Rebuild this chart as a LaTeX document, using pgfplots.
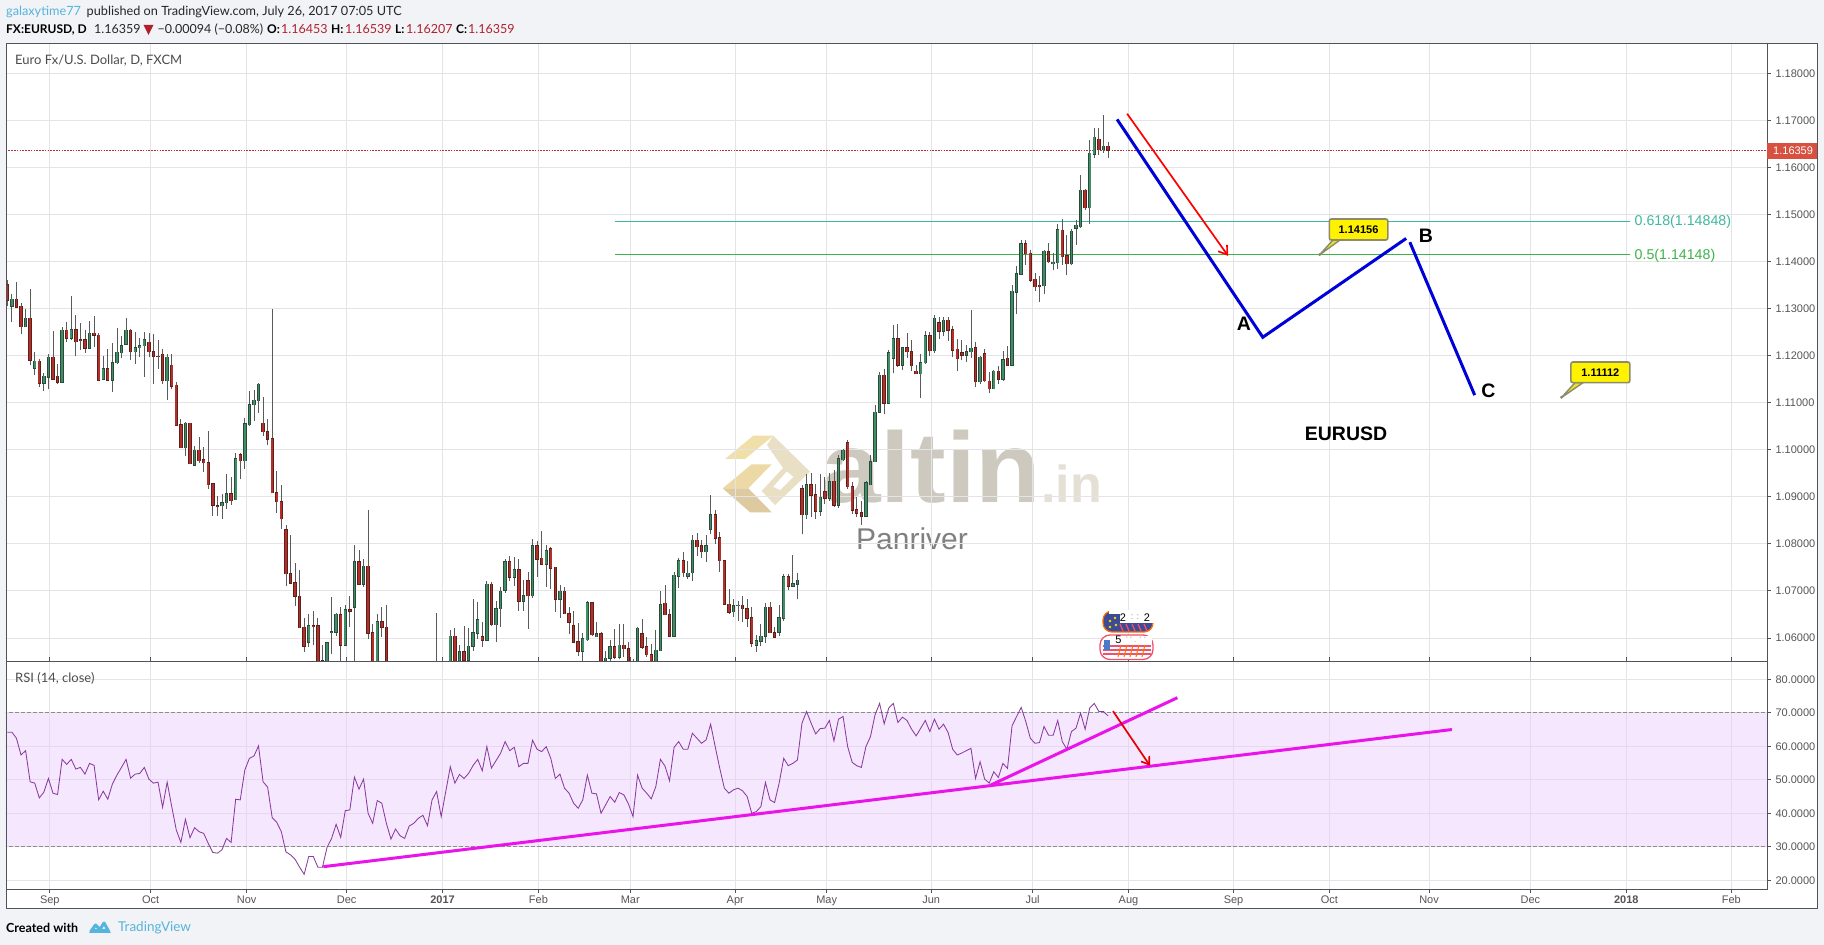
\documentclass[border=0pt]{standalone}
\usepackage{fontspec}
\setmainfont{Liberation Sans}
\newfontfamily\lato{Lato}
\usepackage{pgfplots}
\usepackage{pgfplotstable}
\pgfplotsset{compat=1.18}
\usetikzlibrary{arrows.meta}
\definecolor{pagebg}{HTML}{F1F3F6}
\definecolor{frame}{HTML}{50545A}
\definecolor{gridc}{HTML}{E4E4E6}
\definecolor{tickc}{HTML}{555555}
\definecolor{wick}{HTML}{5A5A5A}
\definecolor{upbody}{HTML}{3E8E66}
\definecolor{upedge}{HTML}{2B4A3B}
\definecolor{dnbody}{HTML}{B3302A}
\definecolor{dnedge}{HTML}{5C1F1A}
\definecolor{rsiline}{HTML}{8A3C9E}
\definecolor{rsiband}{HTML}{EBCBFB}
\definecolor{lastpx}{HTML}{B5323C}
\definecolor{lastbox}{HTML}{D8503F}
\definecolor{fibteal}{HTML}{3DB8A0}
\definecolor{fibgreen}{HTML}{3FB24A}
\definecolor{mag}{HTML}{EA14EA}
\definecolor{hdrred}{HTML}{B0202C}
\definecolor{tvblue}{HTML}{55B4DC}
\definecolor{callout}{HTML}{8C8C6C}
\definecolor{wmdark}{HTML}{CDC9BE}
\definecolor{wmlight}{HTML}{E4E0D5}
\definecolor{logoa}{HTML}{F0DFA8}
\definecolor{logob}{HTML}{EDD9A6}
\definecolor{logoc}{HTML}{DDCAA0}
\definecolor{logod}{HTML}{E9DFC4}
\definecolor{navy}{HTML}{3D4A94}
\definecolor{pinkr}{HTML}{F0506E}
\definecolor{flagb}{HTML}{4A7AC8}
\pgfplotstableread{
i o h l c
0 1.1351 1.1360 1.1305 1.1318
1 1.1305 1.1330 1.1272 1.1320
2 1.1320 1.1356 1.1303 1.1303
3 1.1305 1.1311 1.1246 1.1261
4 1.1261 1.1299 1.1261 1.1279
5 1.1279 1.1341 1.1179 1.1190
6 1.1173 1.1207 1.1158 1.1188
7 1.1188 1.1192 1.1133 1.1141
8 1.1141 1.1164 1.1125 1.1156
9 1.1154 1.1204 1.1128 1.1196
10 1.1196 1.1252 1.1150 1.1150
11 1.1156 1.1182 1.1139 1.1143
12 1.1143 1.1261 1.1142 1.1254
13 1.1254 1.1272 1.1229 1.1237
14 1.1237 1.1326 1.1234 1.1255
15 1.1255 1.1286 1.1199 1.1229
16 1.1234 1.1270 1.1211 1.1233
17 1.1234 1.1254 1.1206 1.1216
18 1.1216 1.1274 1.1214 1.1247
19 1.1247 1.1284 1.1218 1.1243
20 1.1243 1.1247 1.1147 1.1148
21 1.1150 1.1199 1.1149 1.1172
22 1.1172 1.1213 1.1147 1.1148
23 1.1148 1.1227 1.1123 1.1185
24 1.1185 1.1258 1.1183 1.1207
25 1.1206 1.1241 1.1194 1.1221
26 1.1224 1.1279 1.1222 1.1254
27 1.1254 1.1257 1.1190 1.1208
28 1.1208 1.1250 1.1183 1.1217
29 1.1217 1.1238 1.1197 1.1221
30 1.1221 1.1250 1.1155 1.1234
31 1.1228 1.1247 1.1197 1.1208
32 1.1208 1.1245 1.1140 1.1199
33 1.1199 1.1233 1.1172 1.1198
34 1.1203 1.1213 1.1140 1.1146
35 1.1146 1.1204 1.1105 1.1196
36 1.1179 1.1203 1.1130 1.1135
37 1.1137 1.1143 1.1050 1.1052
38 1.1053 1.1066 1.1004 1.1004
39 1.1004 1.1059 1.0986 1.1056
40 1.1056 1.1057 1.0969 1.0970
41 1.0967 1.1007 1.0965 1.0999
42 1.0999 1.1027 1.0972 1.0977
43 1.0979 1.1006 1.0953 1.0972
44 1.0972 1.1039 1.0916 1.0926
45 1.0928 1.0929 1.0860 1.0882
46 1.0881 1.0901 1.0860 1.0880
47 1.0881 1.0905 1.0852 1.0887
48 1.0887 1.0948 1.0875 1.0906
49 1.0906 1.0943 1.0882 1.0892
50 1.0894 1.0992 1.0893 1.0981
51 1.0989 1.0992 1.0937 1.0977
52 1.0977 1.1068 1.0960 1.1055
53 1.1053 1.1124 1.1050 1.1096
54 1.1096 1.1126 1.1061 1.1105
55 1.1104 1.1141 1.1079 1.1139
56 1.1056 1.1111 1.1029 1.1038
57 1.1038 1.1066 1.1009 1.1022
58 1.1023 1.1299 1.0908 1.0908
59 1.0909 1.0954 1.0865 1.0889
60 1.0889 1.0924 1.0831 1.0853
61 1.0830 1.0841 1.0710 1.0736
62 1.0736 1.0818 1.0714 1.0716
63 1.0717 1.0760 1.0668 1.0689
64 1.0689 1.0745 1.0621 1.0622
65 1.0623 1.0643 1.0570 1.0582
66 1.0591 1.0650 1.0580 1.0626
67 1.0626 1.0658 1.0584 1.0625
68 1.0626 1.0643 1.0530 1.0540
69 1.0552 1.0586 1.0530 1.0550
70 1.0545 1.0591 1.0530 1.0590
71 1.0611 1.0687 1.0565 1.0613
72 1.0612 1.0653 1.0605 1.0650
73 1.0649 1.0665 1.0552 1.0584
74 1.0584 1.0669 1.0583 1.0660
75 1.0660 1.0690 1.0624 1.0657
76 1.0665 1.0797 1.0540 1.0762
77 1.0762 1.0786 1.0713 1.0714
78 1.0714 1.0768 1.0709 1.0752
79 1.0752 1.0872 1.0597 1.0610
80 1.0611 1.0630 1.0545 1.0552
81 1.0540 1.0651 1.0530 1.0634
82 1.0634 1.0666 1.0603 1.0623
83 1.0623 1.0671 1.0520 1.0530
94 1.0450 1.0654 1.0430 1.0480
97 1.0540 1.0616 1.0520 1.0604
98 1.0604 1.0622 1.0520 1.0530
99 1.0545 1.0584 1.0530 1.0571
100 1.0571 1.0626 1.0551 1.0553
101 1.0553 1.0622 1.0549 1.0582
102 1.0582 1.0683 1.0572 1.0611
103 1.0610 1.0676 1.0598 1.0639
104 1.0603 1.0634 1.0580 1.0595
105 1.0595 1.0720 1.0594 1.0714
106 1.0714 1.0719 1.0626 1.0628
107 1.0628 1.0678 1.0591 1.0662
108 1.0662 1.0708 1.0624 1.0699
109 1.0701 1.0768 1.0695 1.0762
110 1.0762 1.0774 1.0721 1.0729
111 1.0729 1.0772 1.0711 1.0745
112 1.0745 1.0767 1.0658 1.0678
113 1.0678 1.0723 1.0658 1.0690
114 1.0722 1.0741 1.0619 1.0690
115 1.0690 1.0811 1.0684 1.0796
116 1.0796 1.0807 1.0729 1.0767
117 1.0769 1.0828 1.0756 1.0757
118 1.0757 1.0798 1.0709 1.0785
119 1.0790 1.0793 1.0705 1.0748
120 1.0750 1.0750 1.0656 1.0682
121 1.0682 1.0713 1.0642 1.0699
122 1.0699 1.0709 1.0651 1.0651
123 1.0651 1.0665 1.0609 1.0633
124 1.0626 1.0658 1.0590 1.0591
125 1.0592 1.0632 1.0562 1.0572
126 1.0572 1.0610 1.0549 1.0598
127 1.0596 1.0679 1.0594 1.0675
128 1.0675 1.0677 1.0605 1.0607
129 1.0603 1.0633 1.0601 1.0609
130 1.0609 1.0612 1.0540 1.0548
131 1.0545 1.0573 1.0530 1.0557
132 1.0557 1.0596 1.0552 1.0581
133 1.0581 1.0618 1.0555 1.0559
134 1.0559 1.0630 1.0555 1.0585
135 1.0585 1.0630 1.0559 1.0577
136 1.0577 1.0591 1.0530 1.0545
137 1.0551 1.0555 1.0530 1.0550
138 1.0545 1.0624 1.0530 1.0621
139 1.0609 1.0640 1.0577 1.0580
140 1.0581 1.0603 1.0559 1.0564
141 1.0564 1.0587 1.0540 1.0545
142 1.0545 1.0616 1.0540 1.0574
143 1.0573 1.0699 1.0572 1.0671
144 1.0674 1.0713 1.0649 1.0649
145 1.0649 1.0662 1.0601 1.0604
146 1.0604 1.0741 1.0603 1.0733
147 1.0731 1.0770 1.0706 1.0764
148 1.0764 1.0782 1.0729 1.0738
149 1.0731 1.0764 1.0725 1.0738
150 1.0738 1.0819 1.0721 1.0808
151 1.0808 1.0823 1.0775 1.0794
152 1.0796 1.0809 1.0770 1.0783
153 1.0783 1.0818 1.0761 1.0796
154 1.0831 1.0904 1.0820 1.0862
155 1.0862 1.0872 1.0800 1.0812
156 1.0813 1.0825 1.0740 1.0764
157 1.0764 1.0766 1.0671 1.0672
158 1.0672 1.0703 1.0651 1.0655
159 1.0656 1.0682 1.0644 1.0668
160 1.0669 1.0679 1.0635 1.0670
161 1.0670 1.0689 1.0633 1.0662
162 1.0662 1.0683 1.0623 1.0642
163 1.0643 1.0665 1.0580 1.0589
164 1.0584 1.0606 1.0570 1.0594
165 1.0593 1.0630 1.0582 1.0604
166 1.0604 1.0674 1.0589 1.0665
167 1.0665 1.0677 1.0610 1.0611
168 1.0611 1.0623 1.0600 1.0601
169 1.0612 1.0671 1.0604 1.0643
170 1.0642 1.0736 1.0637 1.0730
171 1.0730 1.0736 1.0701 1.0710
172 1.0710 1.0777 1.0710 1.0715
173 1.0714 1.0738 1.0682 1.0723
174 1.0917 1.0924 1.0820 1.0862
175 1.0862 1.0949 1.0853 1.0926
176 1.0926 1.0951 1.0857 1.0903
177 1.0904 1.0928 1.0853 1.0869
178 1.0869 1.0948 1.0859 1.0899
179 1.0911 1.0943 1.0884 1.0897
180 1.0897 1.0950 1.0892 1.0932
181 1.0933 1.0956 1.0878 1.0882
182 1.0882 1.0988 1.0877 1.0981
183 1.0979 1.1002 1.0976 1.0999
184 1.1015 1.1021 1.0917 1.0921
185 1.0921 1.0931 1.0864 1.0871
186 1.0872 1.0899 1.0857 1.0865
187 1.0866 1.0892 1.0841 1.0859
188 1.0859 1.0933 1.0857 1.0930
189 1.0926 1.0989 1.0924 1.0974
190 1.0974 1.1096 1.0974 1.1080
191 1.1080 1.1165 1.1079 1.1158
192 1.1158 1.1172 1.1075 1.1099
193 1.1099 1.1211 1.1098 1.1206
194 1.1194 1.1264 1.1162 1.1236
195 1.1236 1.1268 1.1176 1.1179
196 1.1179 1.1218 1.1169 1.1217
197 1.1217 1.1249 1.1194 1.1208
198 1.1208 1.1234 1.1167 1.1178
199 1.1167 1.1180 1.1160 1.1161
200 1.1161 1.1204 1.1110 1.1185
201 1.1185 1.1252 1.1183 1.1242
202 1.1242 1.1250 1.1200 1.1210
203 1.1210 1.1286 1.1205 1.1279
204 1.1270 1.1282 1.1235 1.1252
205 1.1252 1.1282 1.1241 1.1275
206 1.1275 1.1282 1.1231 1.1254
207 1.1255 1.1262 1.1197 1.1211
208 1.1213 1.1236 1.1167 1.1193
209 1.1206 1.1233 1.1190 1.1201
210 1.1201 1.1223 1.1186 1.1208
211 1.1208 1.1296 1.1195 1.1216
212 1.1217 1.1228 1.1133 1.1144
213 1.1144 1.1199 1.1140 1.1196
214 1.1204 1.1213 1.1144 1.1146
215 1.1146 1.1165 1.1120 1.1130
216 1.1130 1.1169 1.1129 1.1167
217 1.1167 1.1178 1.1140 1.1150
218 1.1150 1.1210 1.1146 1.1191
219 1.1194 1.1220 1.1179 1.1179
220 1.1179 1.1350 1.1179 1.1337
221 1.1335 1.1390 1.1289 1.1374
222 1.1373 1.1445 1.1373 1.1438
223 1.1438 1.1445 1.1392 1.1416
224 1.1417 1.1425 1.1357 1.1360
225 1.1362 1.1376 1.1337 1.1346
226 1.1349 1.1369 1.1314 1.1346
227 1.1348 1.1424 1.1330 1.1422
228 1.1421 1.1440 1.1397 1.1399
229 1.1395 1.1417 1.1381 1.1398
230 1.1397 1.1479 1.1385 1.1467
231 1.1466 1.1490 1.1392 1.1410
232 1.1412 1.1456 1.1371 1.1395
233 1.1395 1.1470 1.1392 1.1464
234 1.1471 1.1488 1.1435 1.1477
235 1.1474 1.1584 1.1472 1.1552
236 1.1552 1.1555 1.1510 1.1514
237 1.1514 1.1658 1.1479 1.1630
238 1.1628 1.1683 1.1620 1.1664
239 1.1660 1.1683 1.1626 1.1637
240 1.1637 1.1711 1.1631 1.1645
241 1.16453 1.16539 1.16207 1.16359
}\candles
\pgfplotstableread{
i r
0 64.2
1 64.2
2 62.4
3 57.4
4 58.7
5 49.4
6 49.0
7 44.6
8 46.3
9 50.4
10 46.0
11 45.6
12 56.1
13 54.6
14 56.1
15 53.2
16 53.7
17 51.7
18 54.9
19 54.3
20 44.0
21 46.6
22 44.2
23 48.7
24 51.4
25 53.7
26 56.1
27 50.5
28 51.7
29 51.9
30 53.7
31 50.2
32 49.0
33 49.3
34 41.8
35 49.3
36 42.0
37 35.0
38 31.3
39 38.2
40 32.7
41 35.7
42 34.5
43 34.0
44 31.0
45 28.3
46 28.1
47 29.1
48 32.5
49 31.3
50 44.2
51 44.0
52 52.9
53 56.4
54 57.1
55 60.1
56 49.4
57 47.8
58 38.7
59 37.3
60 34.5
61 28.5
62 27.6
63 26.3
64 23.9
65 21.8
66 27.1
67 27.1
68 23.9
69 23.9
70 29.8
71 32.5
72 36.7
73 32.8
74 40.8
75 41.0
76 50.8
77 47.2
78 50.2
79 40.0
80 37.0
81 43.8
82 43.0
83 37.0
84 32.3
85 35.3
86 33.3
87 32.5
88 36.2
89 37.0
90 38.5
91 39.4
92 36.3
93 44.0
94 46.5
95 39.0
96 46.5
97 53.9
98 49.0
99 51.6
100 50.4
101 51.9
102 54.3
103 56.1
104 52.7
105 59.9
106 53.5
107 55.7
108 57.9
109 61.4
110 58.7
111 59.7
112 53.9
113 54.9
114 54.9
115 61.8
116 59.1
117 58.4
118 59.9
119 56.4
120 50.4
121 51.7
122 47.5
123 46.0
124 43.0
125 41.5
126 44.0
127 51.4
128 46.0
129 45.8
130 40.0
131 42.5
132 45.0
133 43.3
134 46.2
135 45.5
136 42.8
137 39.0
138 51.4
139 47.5
140 46.0
141 44.3
142 48.0
143 56.1
144 54.1
145 49.7
146 59.7
147 61.4
148 59.1
149 59.1
150 63.9
151 62.4
152 60.9
153 61.9
154 66.6
155 59.9
156 53.4
157 47.5
158 46.0
159 47.0
160 47.5
161 46.7
162 45.0
163 40.0
164 40.5
165 42.0
166 49.2
167 44.0
168 43.2
169 49.0
170 56.4
171 54.2
172 54.9
173 55.9
174 66.9
175 70.4
176 66.9
177 63.7
178 65.3
179 65.4
180 67.7
181 61.6
182 68.1
183 68.9
184 59.9
185 55.2
186 54.2
187 53.7
188 59.9
189 62.9
190 69.4
191 72.8
192 66.7
193 71.4
194 72.8
195 67.1
196 68.7
197 67.7
198 65.1
199 63.1
200 65.4
201 67.7
202 64.4
203 68.1
204 65.1
205 66.6
206 64.1
207 59.1
208 57.4
209 58.0
210 58.7
211 59.4
212 50.4
213 55.4
214 50.2
215 49.0
216 52.4
217 50.7
218 54.9
219 53.4
220 66.1
221 68.9
222 71.6
223 67.4
224 62.4
225 60.9
226 61.1
227 65.9
228 63.3
229 63.3
230 67.7
231 61.4
232 59.1
233 64.4
234 65.4
235 69.9
236 65.1
237 71.4
238 72.8
239 70.4
240 70.4
241 69.1
}\rsi
\pgfplotsset{
  cbar/.style={draw=none, mark=none, forget plot,
    error bars/.cd, y dir=plus, y explicit, error mark=none, error bar style={#1}},
  panel/.style={
    scale only axis, width=1761pt, xmin=-0.29, xmax=385.3,
    xtick={9.3,31.4,52.4,74.3,95.3,116.3,136.4,159.4,179.4,202.3,224.5,245.5,268.5,289.5,311.3,333.5,354.5,377.5},
    ymajorgrids, xmajorgrids,
    grid style={gridc, line width=0.8pt},
    axis line style={frame, line width=0.9pt},
    tick style={frame, line width=0.8pt},
    major tick length=4pt, tick align=outside,
    ytick pos=right,
    tick label style={font=\fontsize{11}{13}\selectfont, text=tickc},
    /pgf/number format/assume math mode=true,
    yticklabel style={xshift=1pt},
  },
}
\newcommand\fnt[1]{\fontsize{#1}{#1}\selectfont}
\begin{document}
\begin{tikzpicture}[x=1pt,y=1pt]
\useasboundingbox (0pt,0pt) rectangle (1824pt,945pt);
\fill[pagebg] (0pt,0pt) rectangle (1824pt,945pt);
\begin{scope}[x=1pt,y=-1pt,shift={(0pt,945pt)}]
\fill[white] (6,43.5) rectangle (1817,908.3);
% watermark logo
\fill[logoa] (725,459) -- (753.3,435.7) -- (773.3,435.7) -- (745,459) -- cycle;
\fill[logob] (722.7,488.3) -- (751.7,464.3) -- (771.7,464.3) -- (748.3,488.3) -- cycle;
\fill[logoc] (722.7,488.3) -- (748.3,488.3) -- (771.7,512.3) -- (750,512.3) -- cycle;
\fill[logod] (773.3,435.7) -- (810,471.7) -- (775,505) -- (761.7,491) -- (783,468) -- (767,445) -- cycle;
\fill[white] (773.3,486.7) -- (786.7,471.7) -- (793.3,476.7) -- (780,490) -- cycle;
\node[anchor=base west, inner sep=0pt, text=wmdark, font=\bfseries\fnt{100}, xscale=1.07] at (821,503) {altin};
\node[anchor=base west, inner sep=0pt, text=wmlight, font=\bfseries\fnt{52}] at (1041,503) {.in};
\node[anchor=base west, inner sep=0pt, text=black!50, font=\fnt{30}] at (856,550) {Panriver};
\end{scope}

% ---------- price panel
\begin{axis}[panel, at={(6pt,284pt)}, anchor=south west, height=617.5pt,
  ymin=1.0551, ymax=1.18633,
  ytick={1.06,1.07,1.08,1.09,1.10,1.11,1.12,1.13,1.14,1.15,1.16,1.17,1.18},
  yticklabel style={/pgf/number format/.cd, fixed, fixed zerofill, precision=5},
  xticklabels={}, x tick style={draw=none},
  clip=true]
\addplot[lastpx, densely dashed, line width=0.7pt, dash pattern=on 1.6pt off 1.2pt, forget plot] coordinates {(-1,1.16359) (386,1.16359)};
\addplot[fibteal, line width=0.9pt, forget plot] coordinates {(133.1,1.14848) (355.3,1.14848)};
\addplot[fibgreen, line width=0.9pt, forget plot] coordinates {(133.1,1.14148) (355.3,1.14148)};
\addplot[cbar={line width=0.8pt, wick}] table[x=i, y=l, y error plus expr=\thisrow{h}-\thisrow{l}] {\candles};
\addplot[cbar={line width=3.4pt, upedge}] table[x=i, y expr={\thisrow{c}>=\thisrow{o} ? \thisrow{o}-0.0001 : nan}, y error plus expr={\thisrow{c}-\thisrow{o}+0.0002}] {\candles};
\addplot[cbar={line width=3.4pt, dnedge}] table[x=i, y expr={\thisrow{c}<\thisrow{o} ? \thisrow{c}-0.0001 : nan}, y error plus expr={\thisrow{o}-\thisrow{c}+0.0002}] {\candles};
\addplot[cbar={line width=1.7pt, upbody}] table[x=i, y expr={\thisrow{c}>=\thisrow{o} ? \thisrow{o} : nan}, y error plus expr={\thisrow{c}-\thisrow{o}}] {\candles};
\addplot[cbar={line width=1.7pt, dnbody}] table[x=i, y expr={\thisrow{c}<\thisrow{o} ? \thisrow{c} : nan}, y error plus expr={\thisrow{o}-\thisrow{c}}] {\candles};
\addplot[blue!85!black, line width=3pt, line join=miter, forget plot] coordinates {(243.0,1.1702) (274.9,1.1239) (306.3,1.1449)};
\addplot[blue!85!black, line width=3pt, forget plot] coordinates {(307.1,1.1441) (321.3,1.1116)};
\addplot[red, line width=1.7pt, -{Straight Barb[length=8pt,width=11pt]}, forget plot] coordinates {(245.2,1.1714) (267.3,1.1412)};
\end{axis}

% ---------- RSI panel
\begin{axis}[panel, at={(6pt,56pt)}, anchor=south west, height=228pt,
  ymin=17.4, ymax=85.46,
  ytick={20,30,40,50,60,70,80},
  yticklabel style={/pgf/number format/.cd, fixed, fixed zerofill, precision=4},
  xticklabels={Sep,Oct,Nov,Dec,\textbf{2017},Feb,Mar,Apr,May,Jun,Jul,Aug,Sep,Oct,Nov,Dec,\textbf{2018},Feb},
  xticklabel style={yshift=1pt},
  clip=true]
\addplot[draw=none, fill=rsiband, fill opacity=0.45, forget plot] coordinates {(-1,30) (386,30) (386,70) (-1,70)} -- cycle;
\addplot[black!45, dashed, dash pattern=on 4pt off 2pt, line width=0.8pt, forget plot] coordinates {(-1,70) (386,70)};
\addplot[black!45, dashed, dash pattern=on 4pt off 2pt, line width=0.8pt, forget plot] coordinates {(-1,30) (386,30)};
\addplot[rsiline, line width=0.85pt, forget plot] table[x=i, y=r] {\rsi};
\addplot[mag, line width=3pt, forget plot] coordinates {(69.2,24.06) (316.3,65.0)};
\addplot[mag, line width=3pt, forget plot] coordinates {(215.3,48.4) (256.2,74.5)};
\addplot[red!90!black, line width=1.7pt, -{Straight Barb[length=7pt,width=10pt]}, forget plot] coordinates {(242.1,70.5) (250.2,54.2)};
\end{axis}

% ---------- frame, labels and annotations (px coordinates, y downwards)
\begin{scope}[x=1pt,y=-1pt,shift={(0pt,945pt)}]
\draw[frame, line width=0.9pt] (6,43.5) rectangle (1817,908.3);
\draw[frame, line width=0.9pt] (6,661) -- (1767,661);
\draw[frame, line width=0.9pt] (1767,43.5) -- (1767,889);
% fib labels
\node[anchor=west, inner sep=0pt, text=fibteal, font=\fnt{14.2}] at (1634.5,222) {0.618(1.14848)};
\node[anchor=west, inner sep=0pt, text=fibgreen, font=\fnt{14.2}] at (1634.5,255.7) {0.5(1.14148)};
% last price tag
\fill[lastbox] (1767,143) rectangle (1817,159);
\node[anchor=west, inner sep=0pt, text=white, font=\fnt{11}] at (1773,151) {1.16359};
% panel captions
\node[anchor=west, inner sep=0pt, text=black!70, font=\lato\fnt{13}] at (15,60.5) {Euro Fx/U.S. Dollar, D, FXCM};
\node[anchor=west, inner sep=0pt, text=black!70, font=\lato\fnt{13}] at (15,678.5) {RSI (14, close)};
% wave labels
\node[font=\bfseries\fnt{19.5}] at (1243.8,324) {A};
\node[font=\bfseries\fnt{19.5}] at (1426,235.7) {B};
\node[font=\bfseries\fnt{19.5}] at (1488.5,391) {C};
\node[font=\bfseries\fnt{19.5}] at (1346,434) {EURUSD};
% callouts
\fill[yellow!80!callout, draw=callout, line width=1.4pt, line join=round] (1333,240) -- (1340,240) -- (1319.4,255) -- cycle;
\draw[callout, fill=yellow, line width=1.6pt, rounded corners=2pt] (1329.3,219) rectangle (1387.8,240);
\fill[callout] (1319.6,254.6) circle (1.6);
\node[font=\bfseries\fnt{11}] at (1358.5,229.7) {1.14156};
\fill[yellow!80!callout, draw=callout, line width=1.4pt, line join=round] (1575,382.7) -- (1583,382.7) -- (1561.3,397.7) -- cycle;
\draw[callout, fill=yellow, line width=1.6pt, rounded corners=2pt] (1570.9,362) rectangle (1629.8,382.7);
\fill[callout] (1561.5,397.3) circle (1.6);
\node[font=\bfseries\fnt{11}] at (1600.3,373) {1.11112};
% earnings badges
\draw[orange!85!red, line width=1.2pt, fill=navy, rounded corners=9pt] (1103,611) rectangle (1153,632);
\fill[white] (1120,610) rectangle (1155,623.5);
\fill[white] (1109,610) rectangle (1120,614);
\foreach \xx in {1120,1126,1132,1138,1144}{\draw[pinkr, line width=1.3pt] (\xx,624) -- (\xx+3,631);}
\fill[yellow!80!orange] (1110,621) circle (1.3) (1115,618) circle (1.3) (1116,625) circle (1.3) (1110,627) circle (1.3);
\node[font=\fnt{11}] at (1123,617.5) {2};
\node[text=black!45, font=\fnt{9}] at (1135,617.5) {: :};
\node[font=\fnt{11}] at (1147,617.5) {2};
\draw[pinkr, line width=1.3pt, fill=white, rounded corners=10pt] (1100,635) rectangle (1153,659.5);
\foreach \yy in {645,649,653}{\fill[pinkr] (1103,\yy) rectangle (1151,\yy+2);}
\fill[flagb] (1103.5,640) rectangle (1110,650);
\foreach \xx in {1118,1124,1130,1136,1142}{\draw[orange!90!red, line width=1pt] (\xx+3,645) -- (\xx,657);}
\fill[white] (1112,636) rectangle (1152,644.5);
\node[font=\fnt{11}] at (1118.3,640) {5};
\node[text=black!40, font=\fnt{8}] at (1136,640) {' ' . ' '};
% header
\node[anchor=west, inner sep=0pt, text=tvblue, font=\lato\fnt{12.7}] at (6,11.7) {galaxytime77};
\node[anchor=west, inner sep=0pt, text=black!85, font=\lato\fnt{12.7}] at (86.5,11.7) {published on TradingView.com, July 26, 2017 07:05 UTC};
\node[anchor=west, inner sep=0pt, text=black, font=\lato\bfseries\fnt{12}] at (6,29.5) {FX:EURUSD, D};
\node[anchor=west, inner sep=0pt, text=black!85, font=\lato\fnt{12.5}] at (94,29.5) {1.16359};
\fill[hdrred] (143.5,25) -- (153.5,25) -- (148.5,35) -- cycle;
\node[anchor=west, inner sep=0pt, text=black!85, font=\lato\fnt{12.5}] at (157.5,29.5) {−0.00094 (−0.08\%)};
\node[anchor=west, inner sep=0pt, text=black, font=\lato\bfseries\fnt{12}] at (267,29.5) {O:};
\node[anchor=west, inner sep=0pt, text=hdrred, font=\lato\fnt{12.5}] at (281,29.5) {1.16453};
\node[anchor=west, inner sep=0pt, text=black, font=\lato\bfseries\fnt{12}] at (331,29.5) {H:};
\node[anchor=west, inner sep=0pt, text=hdrred, font=\lato\fnt{12.5}] at (345,29.5) {1.16539};
\node[anchor=west, inner sep=0pt, text=black, font=\lato\bfseries\fnt{12}] at (395,29.5) {L:};
\node[anchor=west, inner sep=0pt, text=hdrred, font=\lato\fnt{12.5}] at (406,29.5) {1.16207};
\node[anchor=west, inner sep=0pt, text=black, font=\lato\bfseries\fnt{12}] at (456,29.5) {C:};
\node[anchor=west, inner sep=0pt, text=hdrred, font=\lato\fnt{12.5}] at (468,29.5) {1.16359};
% footer
\node[anchor=west, inner sep=0pt, text=black, font=\lato\bfseries\fnt{12.5}] at (6,927.7) {Created with};
\draw[tvblue, line width=3pt, line join=round] (90.5,932) -- (95.5,925) -- (100,929.5) -- (104,923) -- (109,932);
\fill[tvblue] (89,933) -- (93,929) -- (107,929) -- (111,933) -- cycle;
\node[anchor=west, inner sep=0pt, text=tvblue, font=\lato\fnt{13.5}] at (118,927.7) {TradingView};
\end{scope}
\end{tikzpicture}
\end{document}
